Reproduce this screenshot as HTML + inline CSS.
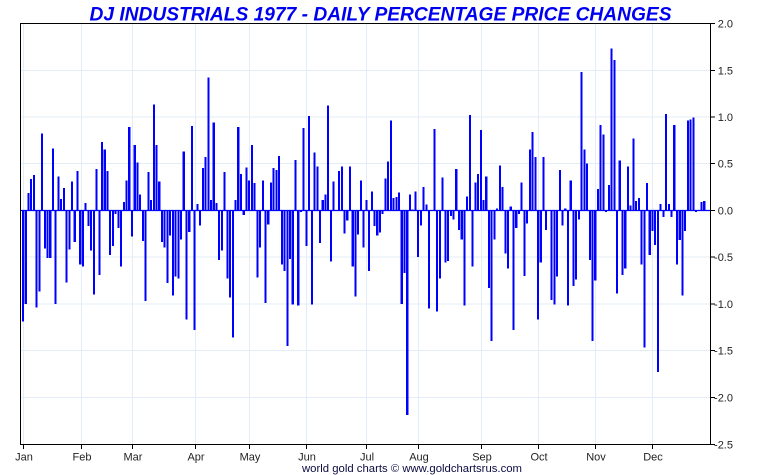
<!DOCTYPE html>
<html>
<head>
<meta charset="utf-8">
<style>
html,body{margin:0;padding:0;background:#fff;}
svg{display:block;}
text{font-family:"Liberation Sans",Arial,sans-serif;}
</style>
</head>
<body>
<svg width="760" height="475" viewBox="0 0 760 475" xmlns="http://www.w3.org/2000/svg">
<rect width="760" height="475" fill="#fff"/>
<!-- title -->
<text x="380.5" y="20.5" text-anchor="middle" font-size="19.5" font-weight="bold" font-style="italic" fill="#0000f0" textLength="582" lengthAdjust="spacingAndGlyphs">DJ INDUSTRIALS 1977 - DAILY PERCENTAGE PRICE CHANGES</text>

<!-- grid -->
<g stroke="#e3edf7" stroke-width="1" shape-rendering="crispEdges">
<line x1="21" y1="70.5" x2="710" y2="70.5"/>
<line x1="21" y1="117" x2="710" y2="117"/>
<line x1="21" y1="163.5" x2="710" y2="163.5"/>
<line x1="21" y1="257" x2="710" y2="257"/>
<line x1="21" y1="304" x2="710" y2="304"/>
<line x1="21" y1="350.5" x2="710" y2="350.5"/>
<line x1="21" y1="397.5" x2="710" y2="397.5"/>
<line x1="23.5" y1="24" x2="23.5" y2="444"/>
<line x1="81.5" y1="24" x2="81.5" y2="444"/>
<line x1="132.5" y1="24" x2="132.5" y2="444"/>
<line x1="195.5" y1="24" x2="195.5" y2="444"/>
<line x1="249.5" y1="24" x2="249.5" y2="444"/>
<line x1="306.5" y1="24" x2="306.5" y2="444"/>
<line x1="366.5" y1="24" x2="366.5" y2="444"/>
<line x1="418.5" y1="24" x2="418.5" y2="444"/>
<line x1="481.5" y1="24" x2="481.5" y2="444"/>
<line x1="538.5" y1="24" x2="538.5" y2="444"/>
<line x1="595.5" y1="24" x2="595.5" y2="444"/>
<line x1="652.5" y1="24" x2="652.5" y2="444"/>
</g>

<!-- bars -->
<g transform="translate(23,210.3) scale(2.725,-93.5)">
<path fill="none" stroke="#0000ff" stroke-width="0.77" shape-rendering="crispEdges" d="M0 0V-1.19M1 0V-1M2 0V.185M3 0V.335M4 0V.38M5 0V-1.04M6 0V-.87M7 0V.82M8 0V-.41M9 0V-.51M10 0V-.51M11 0V.66M12 0V-1M13 0V.36M14 0V.12M15 0V.24M16 0V-.77M17 0V-.42M18 0V.31M19 0V-.34M20 0V.42M21 0V-.58M22 0V-.6M23 0V.08M24 0V-.17M25 0V-.43M26 0V-.9M27 0V.44M28 0V-.69M29 0V.73M30 0V.65M31 0V.42M32 0V-.48M33 0V-.38M34 0V-.04M35 0V-.19M36 0V-.6M37 0V.09M38 0V.32M39 0V.89M40 0V-.28M41 0V.7M42 0V.51M43 0V.17M44 0V-.33M45 0V-.97M46 0V.41M47 0V.11M48 0V1.13M49 0V.7M50 0V.31M51 0V-.34M52 0V-.4M53 0V-.78M54 0V-.27M55 0V-.91M56 0V-.71M57 0V-.73M58 0V-.31M59 0V.63M60 0V-1.17M61 0V-.23M62 0V.9M63 0V-1.28M64 0V.07M65 0V-.16M66 0V.45M67 0V.57M68 0V1.42M69 0V.11M70 0V.94M71 0V.08M72 0V-.53M73 0V-.43M74 0V.41M75 0V-.73M76 0V-.93M77 0V-1.36M78 0V.11M79 0V.89M80 0V.39M81 0V-.05M82 0V.46M83 0V.32M84 0V.7M85 0V.29M86 0V-.72M87 0V-.4M88 0V.32M89 0V-.99M90 0V-.15M91 0V.3M92 0V.45M93 0V.43M94 0V.58M95 0V-.58M96 0V-.65M97 0V-1.45M98 0V-.52M99 0V-1.01M100 0V.54M101 0V-1.02M102 0V-.02M103 0V.88M104 0V-.38M105 0V1.01M106 0V-1.01M107 0V.62M108 0V.47M109 0V-.35M110 0V.11M111 0V.17M112 0V1.12M113 0V-.55M114 0V.31M116 0V.42M117 0V.47M118 0V-.25M119 0V-.11M120 0V.47M121 0V-.6M122 0V-.92M123 0V-.26M124 0V.32M125 0V-.4M126 0V.11M127 0V-.65M128 0V.2M129 0V-.17M130 0V-.27M131 0V-.24M132 0V-.04M133 0V.34M134 0V.52M135 0V.96M136 0V.13M137 0V.14M138 0V.19M139 0V-1M140 0V-.67M141 0V-2.19M142 0V.17M143 0V.01M144 0V.2M145 0V-.5M146 0V-.16M147 0V.25M148 0V.06M149 0V-1.05M151 0V.87M152 0V-1.08M153 0V-.73M154 0V.35M155 0V-.56M156 0V-.54M157 0V-.06M158 0V-.1M159 0V.44M160 0V-.21M161 0V-.31M162 0V-1.02M163 0V.15M164 0V1.02M165 0V-.6M166 0V.3M167 0V.39M168 0V.86M169 0V.11M170 0V.36M171 0V-.83M172 0V-1.4M173 0V-.31M174 0V.02M175 0V.48M176 0V.25M177 0V-.46M178 0V-.62M179 0V.04M180 0V-1.28M181 0V-.19M182 0V-.04M183 0V.3M184 0V-.7M185 0V-.14M186 0V.65M187 0V.84M188 0V.57M189 0V-1.17M190 0V-.56M191 0V.57M192 0V-.21M193 0V-.01M194 0V-.96M195 0V-1.01M196 0V-.71M197 0V.43M198 0V-.16M199 0V.02M200 0V-1.02M201 0V.32M202 0V-.81M203 0V-.74M204 0V-.1M205 0V1.48M206 0V.65M207 0V.5M208 0V-.53M209 0V-1.4M210 0V-.75M211 0V.23M212 0V.91M213 0V.81M214 0V-.02M215 0V.27M216 0V1.73M217 0V1.61M218 0V-.89M219 0V.53M220 0V-.69M221 0V-.62M222 0V.47M223 0V.05M224 0V.77M225 0V.1M226 0V.13M227 0V-.58M228 0V-1.47M229 0V.29M230 0V-.48M231 0V-.22M232 0V-.37M233 0V-1.73M234 0V.07M235 0V-.07M236 0V1.03M237 0V.07M238 0V-.07M239 0V.91M240 0V-.58M241 0V-.32M242 0V-.91M243 0V-.22M244 0V.96M245 0V.97M246 0V.99M247 0V-.02M249 0V.09M250 0V.1"/>
</g>

<!-- zero line -->
<line x1="21" y1="210.5" x2="710" y2="210.5" stroke="#0000ff" stroke-width="1.3"/>

<!-- frame -->
<g stroke="#000" stroke-width="1" shape-rendering="crispEdges" fill="none">
<line x1="20.5" y1="23.5" x2="710.5" y2="23.5"/>
<line x1="20.5" y1="23" x2="20.5" y2="445"/>
<line x1="20" y1="444.5" x2="711" y2="444.5"/>
<line x1="710.5" y1="23" x2="710.5" y2="445"/>
<!-- right ticks -->
<line x1="710" y1="23.5" x2="715" y2="23.5"/>
<line x1="710" y1="70.5" x2="715" y2="70.5"/>
<line x1="710" y1="117" x2="715" y2="117"/>
<line x1="710" y1="163.5" x2="715" y2="163.5"/>
<line x1="710" y1="210.5" x2="715" y2="210.5"/>
<line x1="710" y1="257" x2="715" y2="257"/>
<line x1="710" y1="304" x2="715" y2="304"/>
<line x1="710" y1="350.5" x2="715" y2="350.5"/>
<line x1="710" y1="397.5" x2="715" y2="397.5"/>
<line x1="710" y1="444.5" x2="715" y2="444.5"/>
<!-- bottom ticks -->
<line x1="23.5" y1="444" x2="23.5" y2="449"/>
<line x1="81.5" y1="444" x2="81.5" y2="449"/>
<line x1="132.5" y1="444" x2="132.5" y2="449"/>
<line x1="195.5" y1="444" x2="195.5" y2="449"/>
<line x1="249.5" y1="444" x2="249.5" y2="449"/>
<line x1="306.5" y1="444" x2="306.5" y2="449"/>
<line x1="366.5" y1="444" x2="366.5" y2="449"/>
<line x1="418.5" y1="444" x2="418.5" y2="449"/>
<line x1="481.5" y1="444" x2="481.5" y2="449"/>
<line x1="538.5" y1="444" x2="538.5" y2="449"/>
<line x1="595.5" y1="444" x2="595.5" y2="449"/>
<line x1="652.5" y1="444" x2="652.5" y2="449"/>
</g>

<!-- y labels -->
<g font-size="11" fill="#222" text-anchor="end">
<text x="733" y="27.5">2.0</text>
<text x="733" y="74.5">1.5</text>
<text x="733" y="121">1.0</text>
<text x="733" y="167.5">0.5</text>
<text x="733" y="214.5">0.0</text>
<text x="733" y="261">-0.5</text>
<text x="733" y="308">-1.0</text>
<text x="733" y="354.5">-1.5</text>
<text x="733" y="401.5">-2.0</text>
<text x="733" y="448.5">-2.5</text>
</g>

<!-- x labels -->
<g font-size="11" fill="#222" text-anchor="middle">
<text x="24" y="460.5">Jan</text>
<text x="82" y="460.5">Feb</text>
<text x="133" y="460.5">Mar</text>
<text x="196" y="460.5">Apr</text>
<text x="250" y="460.5">May</text>
<text x="307" y="460.5">Jun</text>
<text x="367" y="460.5">Jul</text>
<text x="419" y="460.5">Aug</text>
<text x="482" y="460.5">Sep</text>
<text x="539" y="460.5">Oct</text>
<text x="596" y="460.5">Nov</text>
<text x="653" y="460.5">Dec</text>
</g>

<!-- footer -->
<text x="412" y="472" text-anchor="middle" font-size="11" fill="#0a0a40" textLength="220" lengthAdjust="spacingAndGlyphs">world gold charts © www.goldchartsrus.com</text>
</svg>
</body>
</html>
